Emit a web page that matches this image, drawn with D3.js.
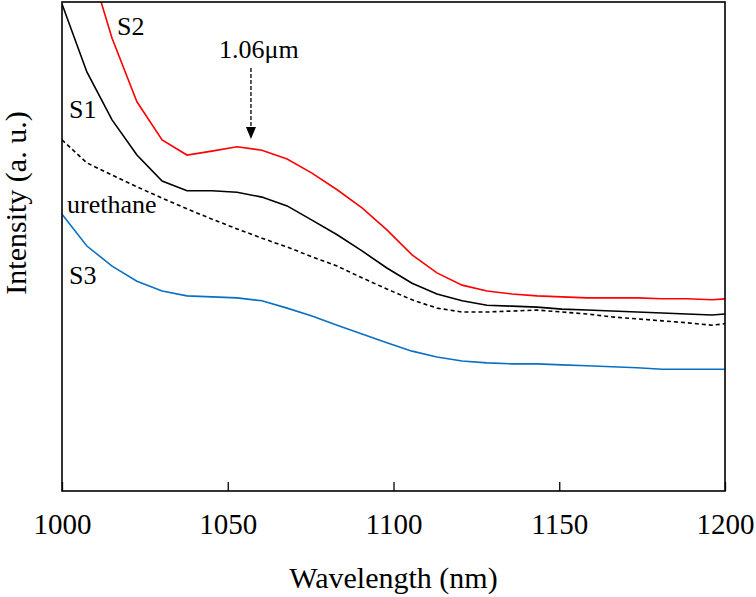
<!DOCTYPE html>
<html>
<head>
<meta charset="utf-8">
<script src="https://cdn.jsdelivr.net/npm/d3@7"></script>
</head>
<body style="margin:0">
<div id="chart"></div>
<script>
// wavelength samples (nm)
const wavelength = [1000, 1007.5, 1015.1, 1022.6, 1030.2, 1037.7, 1045.2, 1052.8, 1060.3, 1067.9,
    1075.4, 1083, 1090.5, 1098, 1105.6, 1113.1, 1120.7, 1128.2, 1135.7, 1143.3,
    1150.8, 1158.4, 1165.9, 1173.5, 1181, 1188.5, 1196.1, 1200];

const s2 = [126.0, 109.6, 92.6, 79.6, 71.8, 68.7, 69.5, 70.4, 69.7, 67.9,
    65.0, 61.6, 57.9, 53.4, 48.3, 44.6, 42.1, 40.9, 40.3, 39.9,
    39.7, 39.5, 39.5, 39.5, 39.3, 39.3, 39.1, 39.3];
const s1 = [99.6, 85.7, 75.9, 68.7, 63.4, 61.4, 61.4, 61.1, 60.1, 58.3,
    55.4, 52.4, 49.1, 45.6, 42.5, 40.3, 38.9, 38.0, 37.8, 37.6,
    37.2, 37.0, 36.8, 36.6, 36.4, 36.2, 36.0, 36.2];
const urethane = [71.8, 67.1, 64.6, 62.2, 59.9, 57.7, 55.6, 53.6, 51.7, 49.9,
    47.9, 46.0, 43.6, 41.3, 39.1, 37.4, 36.6, 36.6, 36.8, 37.0,
    36.6, 36.2, 35.6, 35.2, 34.8, 34.4, 33.9, 34.2];
const s3 = [56.6, 50.1, 46.0, 42.9, 40.9, 39.9, 39.7, 39.5, 38.9, 37.4,
    35.8, 33.9, 32.1, 30.3, 28.6, 27.4, 26.6, 26.2, 26.0, 26.0,
    25.8, 25.6, 25.4, 25.2, 24.9, 24.9, 24.9, 24.9];

const xTicks = [1000, 1050, 1100, 1150, 1200];

const W = 756, H = 597;
const margin = { top: 2, right: 31, bottom: 106, left: 62 };
const width = W - margin.left - margin.right;
const height = H - margin.top - margin.bottom;
const serif = "Liberation Serif";

const svg = d3.select("#chart").append("svg")
    .attr("width", W)
    .attr("height", H)
    .attr("font-family", serif);

const g = svg.append("g")
    .attr("transform", `translate(${margin.left},${margin.top})`);

const x = d3.scaleLinear().domain([1000, 1200]).range([0, width]);
const y = d3.scaleLinear().domain([0, 100]).range([height, 0]);

g.append("clipPath").attr("id", "plot-clip")
    .append("rect").attr("width", width).attr("height", height);

const series = [
    { name: "S2", values: s2, color: "#ff0000", dash: null },
    { name: "S1", values: s1, color: "#000000", dash: null },
    { name: "urethane", values: urethane, color: "#000000", dash: "4,3" },
    { name: "S3", values: s3, color: "#0a70c4", dash: null }
];

const line = d3.line()
    .x((d, i) => x(wavelength[i]))
    .y(d => y(d));

g.append("g").attr("clip-path", "url(#plot-clip)")
    .selectAll("path")
    .data(series)
    .enter()
    .append("path")
    .attr("d", d => line(d.values))
    .attr("fill", "none")
    .attr("stroke", d => d.color)
    .attr("stroke-width", 1.6)
    .attr("stroke-dasharray", d => d.dash);

// x axis: inward ticks, labels below
const xAxis = g.append("g")
    .attr("transform", `translate(0,${height})`)
    .call(d3.axisBottom(x).tickValues(xTicks).tickSize(-9).tickPadding(22).tickFormat(d3.format("d")));
xAxis.attr("font-family", serif).attr("font-size", 29);
xAxis.select(".domain").remove();
xAxis.selectAll("line").attr("stroke", "#000").attr("stroke-width", 1.3);
xAxis.selectAll("text").attr("fill", "#000").style("font-family", `"${serif}"`);

// frame
g.append("rect")
    .attr("width", width)
    .attr("height", height)
    .attr("fill", "none")
    .attr("stroke", "#000")
    .attr("stroke-width", 1.6);

// series labels
const labels = [
    { text: "S2", x: 117, y: 35 },
    { text: "S1", x: 69, y: 118 },
    { text: "urethane", x: 67, y: 213 },
    { text: "S3", x: 69, y: 284 }
];
svg.selectAll(".series-label")
    .data(labels)
    .enter()
    .append("text")
    .attr("class", "series-label")
    .attr("x", d => d.x)
    .attr("y", d => d.y)
    .attr("font-size", 26)
    .style("font-family", `"${serif}"`)
    .text(d => d.text);

// 1.06 um marker
const markX = margin.left + x(1057);
svg.append("text")
    .attr("x", markX + 8)
    .attr("y", 58)
    .attr("text-anchor", "middle")
    .attr("font-size", 26)
    .style("font-family", `"${serif}"`)
    .text("1.06μm");

svg.append("line")
    .attr("x1", markX).attr("x2", markX)
    .attr("y1", 68).attr("y2", 128)
    .attr("stroke", "#000")
    .attr("stroke-width", 1.3)
    .attr("stroke-dasharray", "4,2");

svg.append("path")
    .attr("d", `M${markX - 5},127 L${markX + 5},127 L${markX},139 Z`)
    .attr("fill", "#000");

// axis titles
svg.append("text")
    .attr("x", margin.left + width / 2)
    .attr("y", 588)
    .attr("text-anchor", "middle")
    .attr("font-size", 30)
    .style("font-family", `"${serif}"`)
    .text("Wavelength (nm)");

svg.append("text")
    .attr("transform", "translate(26,203) rotate(-90)")
    .attr("text-anchor", "middle")
    .attr("font-size", 30)
    .style("font-family", `"${serif}"`)
    .text("Intensity (a. u.)");
</script>
</body>
</html>
